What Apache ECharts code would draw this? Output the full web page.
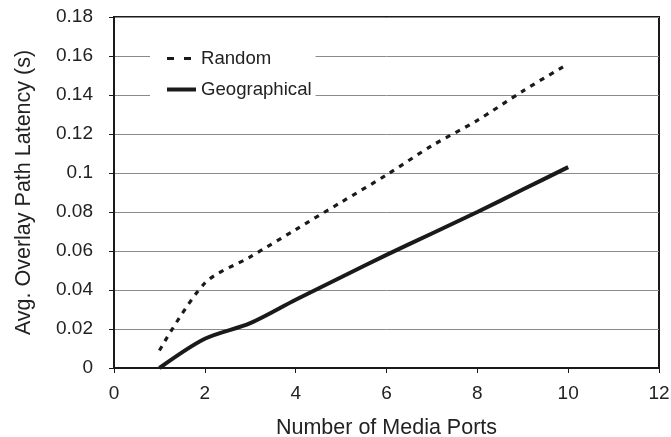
<!DOCTYPE html>
<html>
<head>
<meta charset="utf-8">
<script src="https://cdn.jsdelivr.net/npm/echarts@6/dist/echarts.min.js"></script>
<style>html,body{margin:0;padding:0;background:#fff}#c{width:671px;height:437px}</style>
</head>
<body>
<div id="c"></div>
<script>
const xValues = [1, 2, 3, 4, 5, 6, 7, 8, 9, 10];
const randomLatency = [0.009, 0.0435, 0.057, 0.071, 0.085, 0.099, 0.114, 0.127, 0.142, 0.156];
const geoLatency = [0.0, 0.015, 0.023, 0.035, 0.0465, 0.058, 0.069, 0.080, 0.0915, 0.103];
const seriesNames = ['Random', 'Geographical'];
const xTitle = 'Number of Media Ports';
const yTitle = 'Avg. Overlay Path Latency (s)';

const FONT = '"Liberation Sans", Arial, sans-serif';
const chart = echarts.init(document.getElementById('c'), null, {renderer: 'canvas'});
const pair = (xs, ys) => xs.map((x, i) => [x, ys[i]]);

chart.setOption({
  animation: false,
  backgroundColor: '#fff',
  grid: {left: 114, right: 12, top: 17, bottom: 69, show: true, borderColor: '#1a1a1a', borderWidth: 2,
    containLabel: false, outerBoundsMode: 'none'},
  legend: {
    orient: 'vertical', left: 150, top: 39,
    data: [
      {name: seriesNames[0], lineStyle: {type: [7, 10], width: 3}},
      {name: seriesNames[1], lineStyle: {width: 4}}
    ],
    itemWidth: 29, itemHeight: 14, itemGap: 12,
    itemStyle: {color: 'transparent', borderColor: 'transparent', borderWidth: 0, opacity: 0},
    backgroundColor: '#fff',
    padding: [10, 4, 10, 15],
    textStyle: {fontFamily: FONT, fontSize: 18.6, color: '#222'}
  },
  xAxis: {
    type: 'value', min: 0, max: 12, interval: 2,
    name: xTitle, nameLocation: 'middle', nameGap: 49,
    nameTextStyle: {fontFamily: FONT, fontSize: 21.5, color: '#222'},
    axisLine: {show: true, onZero: false, lineStyle: {color: '#1a1a1a', width: 2}},
    axisTick: {show: true, inside: false, length: 5, lineStyle: {color: '#1a1a1a', width: 1}},
    axisLabel: {fontFamily: FONT, fontSize: 19, color: '#222', margin: 16},
    splitLine: {show: false}
  },
  yAxis: {
    type: 'value', min: 0, max: 0.18, interval: 0.02,
    name: yTitle, nameLocation: 'middle', nameGap: 79,
    nameTextStyle: {fontFamily: FONT, fontSize: 21.5, color: '#222'},
    axisLine: {show: true, lineStyle: {color: '#1a1a1a', width: 2}},
    axisTick: {show: true, inside: false, length: 5, lineStyle: {color: '#1a1a1a', width: 1}},
    axisLabel: {fontFamily: FONT, fontSize: 19, color: '#222', margin: 21,
      formatter: v => String(+v.toFixed(2))},
    splitLine: {show: true, lineStyle: {color: '#8a8a8a', width: 1}}
  },
  series: [
    {
      name: seriesNames[0], type: 'line', data: pair(xValues, randomLatency),
      showSymbol: false, symbol: 'none', smooth: 0.3,
      lineStyle: {color: '#1a1a1a', width: 3.2, type: [5, 6]},
      itemStyle: {color: '#1a1a1a'}
    },
    {
      name: seriesNames[1], type: 'line', data: pair(xValues, geoLatency),
      showSymbol: false, symbol: 'none', smooth: 0.3,
      lineStyle: {color: '#1a1a1a', width: 4},
      itemStyle: {color: '#1a1a1a'}
    }
  ]
});
</script>
</body>
</html>
